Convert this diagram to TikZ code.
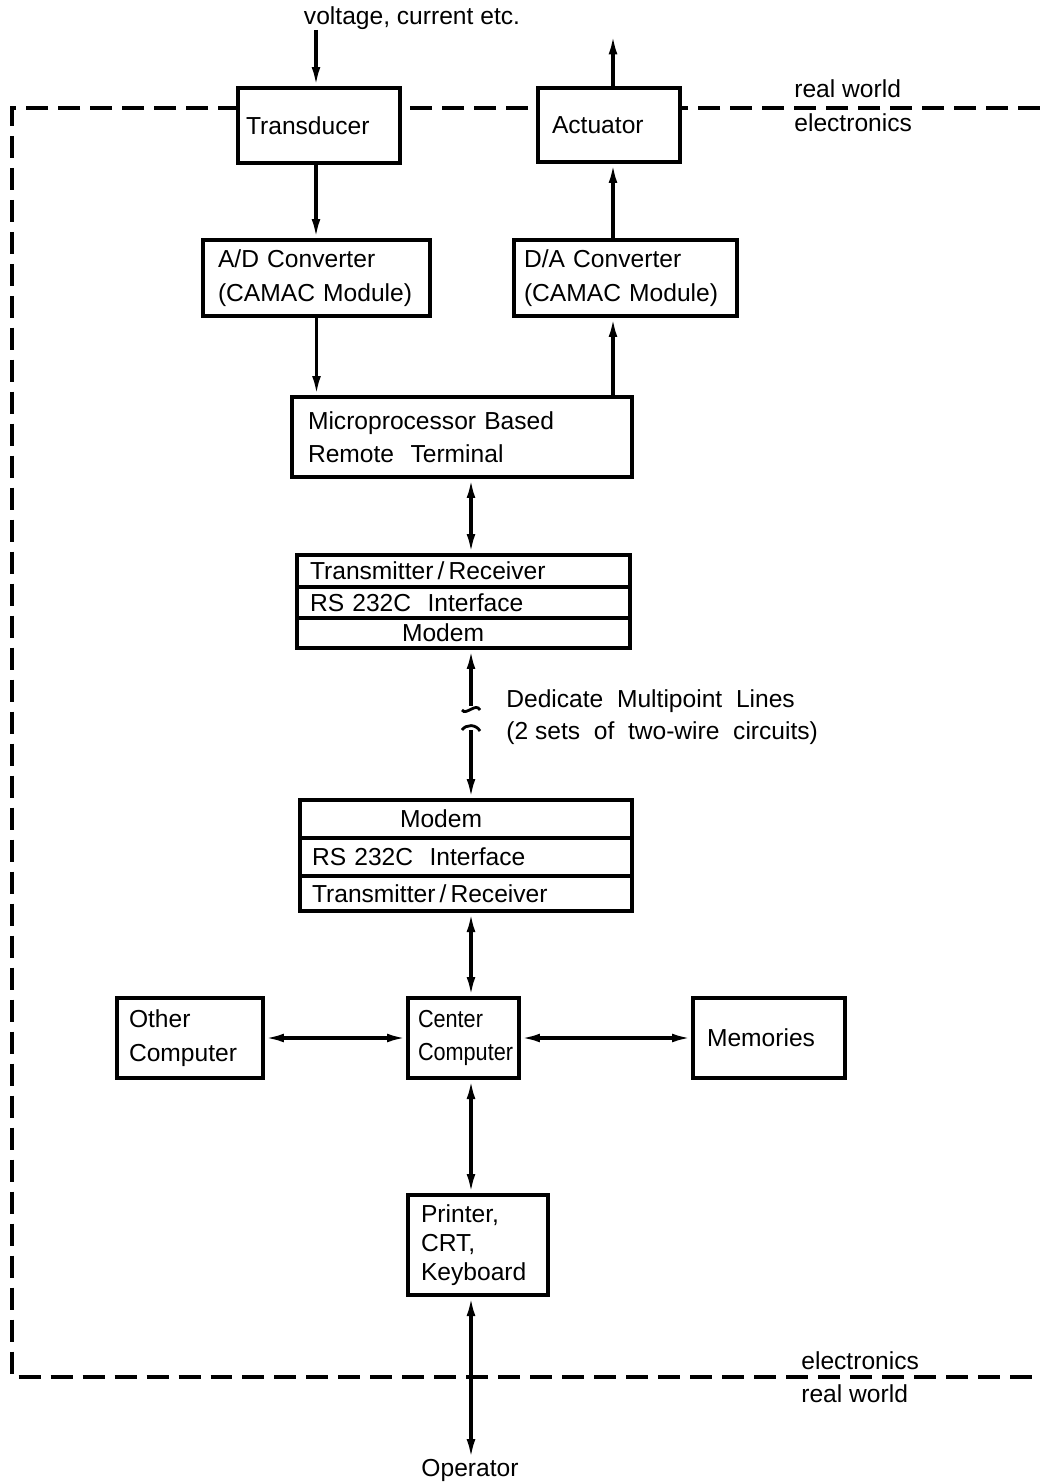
\documentclass[tikz,border=0pt]{standalone}
\usepackage{fontspec}
\setmainfont{Liberation Sans}
\newfontfamily\narrowfont[FakeStretch=0.88]{Liberation Sans}
\usetikzlibrary{arrows.meta}
\tikzset{
  blk/.style={draw, line width=1.9pt, fill=white, align=left, inner ysep=0pt,
    font=\fontsize{14}{19}\selectfont},
  conn/.style={line width=1.9pt, {Latex[length=11pt,width=5pt]}-{Latex[length=11pt,width=5pt]}},
  one/.style={line width=1.9pt, -{Latex[length=11pt,width=5pt]}},
  lbl/.style={font=\fontsize{14}{18.5}\selectfont, inner sep=0pt}
}

\begin{document}
\begin{tikzpicture}[x=0.02cm, y=-0.02cm]
            \useasboundingbox (0,0) rectangle (1040,1483);

            % border between real world and electronics
            \draw[line width=1.8pt, dash pattern=on 0.44cm off 0.2cm] (1040,108) -- (12,108) -- (12,1377) -- (1040,1377);

            % coordinates for the lines
            \coordinate (vin) at (316,30);
            \coordinate (vout) at (613,35);
            \coordinate (spine) at (471,0);

            % boxes of the remote side
            \node (trans) at (319,125.5) [blk, minimum width=3.24cm, minimum height=1.5cm, inner xsep=0.16cm, text width=2.92cm]{Transducer};
            \node (act) at (609,125) [blk, minimum width=2.84cm, minimum height=1.48cm, inner xsep=0.28cm, text width=2.28cm]{Actuator};
            \node (adc) at (316.5,278) [blk, minimum width=4.54cm, minimum height=1.52cm, inner xsep=0.3cm, text width=3.94cm]{A/D Converter\\(CAMAC Module)};
            \node (dac) at (625.5,278) [blk, minimum width=4.46cm, minimum height=1.52cm, inner xsep=0.2cm, text width=4.06cm]{D/A Converter\\(CAMAC Module)};
            \node (mpu) at (462,437) [blk, minimum width=6.8cm, minimum height=1.6cm, inner xsep=0.32cm, text width=6.16cm]{Microprocessor Based\\Remote\ \ Terminal};

            % upper stack
            \node (tr1) at (463.5,571) [blk, minimum width=6.66cm, minimum height=0.64cm, inner xsep=0.26cm, text width=6.14cm]{Transmitter\,/\,Receiver};
            \node (rs1) at (463.5,602.5) [blk, minimum width=6.66cm, minimum height=0.62cm, inner xsep=0.26cm, text width=6.14cm]{RS 232C\ \ Interface};
            \node (md1) at (463.5,633) [blk, minimum width=6.66cm, minimum height=0.6cm, inner xsep=2.1cm, text width=2.46cm]{Modem};

            % lower stack
            \node (md2) at (466,819) [blk, minimum width=6.64cm, minimum height=0.76cm, inner xsep=2cm, text width=2.64cm]{Modem};
            \node (rs2) at (466,857) [blk, minimum width=6.64cm, minimum height=0.76cm, inner xsep=0.24cm, text width=6.16cm]{RS 232C\ \ Interface};
            \node (tr2) at (466,893.5) [blk, minimum width=6.64cm, minimum height=0.7cm, inner xsep=0.24cm, text width=6.16cm]{Transmitter\,/\,Receiver};

            % boxes of the center side
            \node (ctr) at (463.5,1038) [blk, minimum width=2.22cm, minimum height=1.6cm, inner xsep=0.2cm, text width=1.82cm, font=\fontsize{14}{19}\narrowfont]{Center\\Computer};
            \node (oth) at (190,1038) [blk, minimum width=2.92cm, minimum height=1.6cm, inner xsep=0.24cm, text width=2.44cm]{Other\\Computer};
            \node (mem) at (769,1038) [blk, minimum width=3.04cm, minimum height=1.6cm, inner xsep=0.28cm, text width=2.48cm]{Memories};
            \node (prn) at (478,1245) [blk, minimum width=2.8cm, minimum height=2cm, inner xsep=0.26cm, text width=2.28cm, font=\fontsize{14}{16.7}\selectfont]{Printer,\\CRT,\\Keyboard};

            % texts
            \node (vtxt) at (412,18) [lbl]{voltage, current etc.};
            \node (oper) at (470,1470) [lbl]{Operator};
            \node (rw1) at (794,89) [lbl, anchor=west]{real world};
            \node (el1) at (794,123) [lbl, anchor=west]{electronics};
            \node (el2) at (801,1361) [lbl, anchor=west]{electronics};
            \node (rw2) at (801,1394) [lbl, anchor=west]{real world};
            \node (lines) at (506,717) [lbl, anchor=west, align=left, font=\fontsize{14}{18.2}\selectfont]{Dedicate\ \ Multipoint\ \ Lines\\(2 sets\ \ of\ \ two-wire\ \ circuits)};

            % signal path up and down
            \draw[one] (vin) -- (vin |- trans.north);
            \draw[one] (vout |- act.north) -- (vout);
            \draw[one] (trans.south -| vin) -- (adc.north -| vin);
            \draw[one] (dac.north -| vout) -- (act.south -| vout);
            \draw[one] (adc.south) -- (adc.south |- mpu.north);
            \draw[one] (mpu.north -| vout) -- (dac.south -| vout);

            % two way lines
            \draw[conn] (mpu.south -| spine) -- (tr1.north -| spine);
            \draw[conn] (tr2.south -| spine) -- (ctr.north -| spine);
            \draw[conn] (ctr.south -| spine) -- (prn.north -| spine);
            \draw[conn] (prn.south -| spine) -- (oper.north -| spine);
            \draw[conn] (ctr.west) -- (oth.east);
            \draw[conn] (ctr.east) -- (mem.west);

            % broken multipoint line
            \coordinate (brkA) at (471,706);
            \coordinate (brkB) at (471,730);
            \draw[line width=1.9pt, {Latex[length=11pt,width=5pt]}-] (md1.south -| spine) -- (brkA);
            \draw[line width=1.9pt, -{Latex[length=11pt,width=5pt]}] (brkB) -- (md2.north -| spine);
            \draw[line width=1.6pt] (462,710) .. controls (466,716) and (476,702) .. (480,710);
            \draw[line width=1.6pt] (462,730) .. controls (466,724) and (476,724) .. (480,731);
\end{tikzpicture}
\end{document}
